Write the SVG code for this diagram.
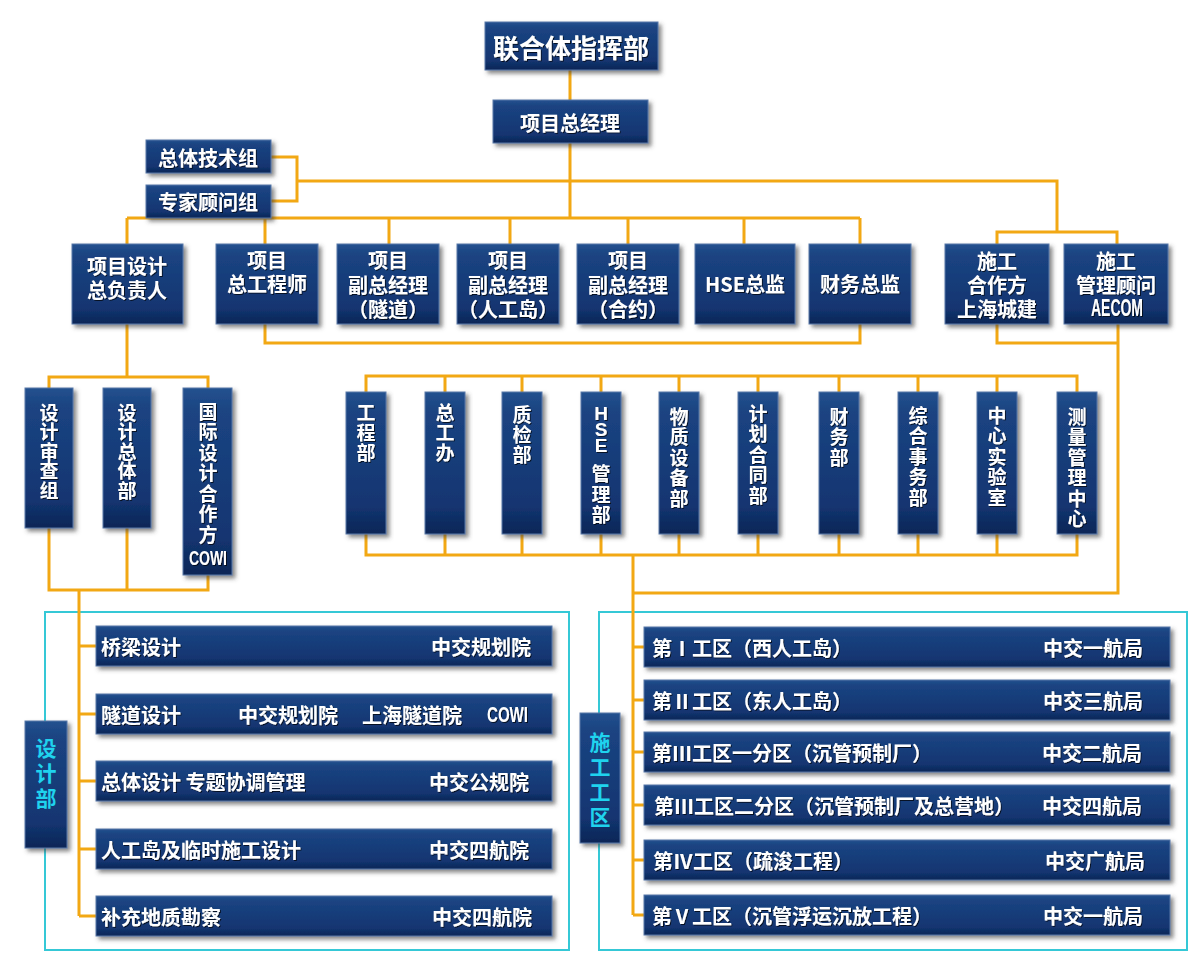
<svg xmlns="http://www.w3.org/2000/svg" width="1200" height="960" viewBox="0 0 1200 960">
<defs>
<linearGradient id="g" x1="0" y1="0" x2="0" y2="1">
<stop offset="0" stop-color="#24528f"/>
<stop offset="0.12" stop-color="#1b4482"/>
<stop offset="0.8" stop-color="#133571"/>
<stop offset="1" stop-color="#0c2656"/>
</linearGradient>
<filter id="sh" x="-20%" y="-20%" width="140%" height="150%">
<feDropShadow dx="3" dy="3" stdDeviation="2" flood-color="#444" flood-opacity="0.65"/>
</filter>
<filter id="ts" x="-10%" y="-10%" width="120%" height="130%">
<feDropShadow dx="1" dy="1" stdDeviation="0.6" flood-color="#000" flood-opacity="0.7"/>
</filter>
</defs>
<style>
.box{fill:url(#g);stroke:#5878a8;stroke-width:1;filter:url(#sh)}
.t{fill:#fff;font-family:"Noto Sans CJK SC","Noto Sans CJK TC",sans-serif;font-weight:700;font-size:20px;text-anchor:middle;dominant-baseline:central;filter:url(#ts)}
.tl{fill:#fff;font-family:"Noto Sans CJK SC",sans-serif;font-weight:700;font-size:20px;dominant-baseline:central;filter:url(#ts)}
.tr{fill:#fff;font-family:"Noto Sans CJK SC",sans-serif;font-weight:700;font-size:20px;text-anchor:end;dominant-baseline:central;filter:url(#ts)}
.v{fill:#fff;font-family:"Noto Sans CJK SC",sans-serif;font-weight:700;font-size:19px;text-anchor:middle;dominant-baseline:central;filter:url(#ts)}
.cy{fill:#1fd3ee;font-family:"Noto Sans CJK SC",sans-serif;font-weight:700;font-size:21px;text-anchor:middle;dominant-baseline:central}
.lat{fill:#fff;font-family:"Liberation Sans",Arial,sans-serif;font-weight:700;dominant-baseline:central;filter:url(#ts)}
.c{fill:none;stroke:#f2a814;stroke-width:3}
.frame{fill:none;stroke:#35c8d6;stroke-width:2}
</style>
<rect width="1200" height="960" fill="#ffffff"/>

<g id="frames">
<rect class="frame" x="45" y="612" width="524" height="338"/>
<rect class="frame" x="599" y="612" width="588" height="338"/>
</g>

<g id="connectors">
<path class="c" d="M570,70 V100 M570,143 V218"/>
<path class="c" d="M271,157 H297 V201 H271 M297,181 H1057 V232"/>
<path class="c" d="M127,218 H860 M127,218 V244 M265,218 V244 M389,218 V244 M510,218 V244 M628,218 V244 M744,218 V244 M860,218 V244"/>
<path class="c" d="M997,244 V232 H1117 V244"/>
<path class="c" d="M265,324 V343 H860 V324"/>
<path class="c" d="M997,324 V343 H1118 M1118,324 V593 H633"/>
<path class="c" d="M127,324 V377 M49,388 V377 H208 V388"/>
<path class="c" d="M49,528 V590 H208 V575 M127,528 V590 M79,590 V916"/>
<path class="c" d="M79,646 H96 M79,714 H96 M79,781 H96 M79,849 H96 M79,916 H96"/>
<path class="c" d="M366,392 V376 H1077 V392 M445,376 V392 M522,376 V392 M601,376 V392 M679,376 V392 M758,376 V392 M839,376 V392 M918,376 V392 M997,376 V392"/>
<path class="c" d="M366,534 V555 H1077 V534 M445,534 V555 M522,534 V555 M601,534 V555 M679,534 V555 M758,534 V555 M839,534 V555 M918,534 V555 M997,534 V555"/>
<path class="c" d="M633,555 V915"/>
<path class="c" d="M633,647 H644 M633,700 H644 M633,752 H644 M633,805 H644 M633,860 H644 M633,915 H644"/>
</g>

<g id="n-top"><rect class="box" x="485" y="22" width="173" height="48"/><text class="t" x="571" y="46" style="font-size:26px">联合体指挥部</text></g>
<g id="n-pm"><rect class="box" x="493" y="100" width="155" height="43"/><text class="t" x="570" y="122">项目总经理</text></g>
<g id="n-tech"><rect class="box" x="146" y="140" width="125" height="33"/><text class="t" x="208" y="157">总体技术组</text></g>
<g id="n-expert"><rect class="box" x="146" y="185" width="125" height="33"/><text class="t" x="208" y="201">专家顾问组</text></g>

<g id="n-design-lead"><rect class="box" x="72" y="244" width="111" height="80"/><text class="t"><tspan x="127" y="265">项目设计</tspan><tspan x="127" y="289">总负责人</tspan></text></g>
<g id="n-chief-eng"><rect class="box" x="216" y="244" width="102" height="80"/><text class="t"><tspan x="267" y="259">项目</tspan><tspan x="267" y="283">总工程师</tspan></text></g>
<g id="n-vp-tunnel"><rect class="box" x="337" y="244" width="102" height="80"/><text class="t"><tspan x="388" y="259">项目</tspan><tspan x="388" y="284">副总经理</tspan><tspan x="388" y="308">（隧道）</tspan></text></g>
<g id="n-vp-island"><rect class="box" x="457" y="244" width="102" height="80"/><text class="t"><tspan x="508" y="259">项目</tspan><tspan x="508" y="284">副总经理</tspan><tspan x="508" y="308">（人工岛）</tspan></text></g>
<g id="n-vp-contract"><rect class="box" x="577" y="244" width="102" height="80"/><text class="t"><tspan x="628" y="259">项目</tspan><tspan x="628" y="284">副总经理</tspan><tspan x="628" y="308">（合约）</tspan></text></g>
<g id="n-hse"><rect class="box" x="695" y="244" width="100" height="80"/><text class="t" x="745" y="283">HSE总监</text></g>
<g id="n-fin"><rect class="box" x="809" y="244" width="102" height="80"/><text class="t" x="860" y="283">财务总监</text></g>
<g id="n-partner"><rect class="box" x="945" y="244" width="104" height="80"/><text class="t"><tspan x="997" y="260">施工</tspan><tspan x="997" y="284">合作方</tspan><tspan x="997" y="308">上海城建</tspan></text></g>
<g id="n-consult"><rect class="box" x="1064" y="244" width="104" height="80"/><text class="t"><tspan x="1116" y="260">施工</tspan><tspan x="1116" y="284">管理顾问</tspan></text><text class="lat" x="1091" y="308" textLength="52" lengthAdjust="spacingAndGlyphs" style="font-size:23px">AECOM</text></g>

<g id="n-review"><rect class="box" x="25" y="388" width="48" height="140"/><text class="v" x="49 49 49 49 49" y="411 430.5 450 469.5 489">设计审查组</text></g>
<g id="n-design-general"><rect class="box" x="103" y="388" width="48" height="140"/><text class="v" x="127 127 127 127 127" y="411 430.5 450 469.5 489">设计总体部</text></g>
<g id="n-cowi"><rect class="box" x="183" y="388" width="49" height="187"/><text class="v" x="208 208 208 208 208 208 208" y="410 430.5 451 471.5 492 512.5 533">国际设计合作方</text><text class="lat" x="189" y="557" textLength="38" lengthAdjust="spacingAndGlyphs" style="font-size:21px">COWI</text></g>

<g id="n-d1"><rect class="box" x="346" y="392" width="40" height="142"/><text class="v" x="366 366 366" y="411 431 451">工程部</text></g>
<g id="n-d2"><rect class="box" x="425" y="392" width="40" height="142"/><text class="v" x="445 445 445" y="411 431 451">总工办</text></g>
<g id="n-d3"><rect class="box" x="502" y="392" width="40" height="142"/><text class="v" x="522 522 522" y="413 433 453">质检部</text></g>
<g id="n-d4"><rect class="box" x="581" y="392" width="40" height="142"/><text class="v"><tspan x="601 601 601" y="413 429 445" style="font-family:'Liberation Sans',Arial,sans-serif;font-size:19px">HSE</tspan><tspan x="601 601 601" y="472 493 513">管理部</tspan></text></g>
<g id="n-d5"><rect class="box" x="659" y="392" width="40" height="142"/><text class="v" x="679 679 679 679 679" y="415 435.5 456 476.5 497">物质设备部</text></g>
<g id="n-d6"><rect class="box" x="738" y="392" width="40" height="142"/><text class="v" x="758 758 758 758 758" y="412 432.5 453 473.5 494">计划合同部</text></g>
<g id="n-d7"><rect class="box" x="819" y="392" width="40" height="142"/><text class="v" x="839 839 839" y="415 435.5 456">财务部</text></g>
<g id="n-d8"><rect class="box" x="898" y="392" width="40" height="142"/><text class="v" x="918 918 918 918 918" y="414 434.5 455 475.5 496">综合事务部</text></g>
<g id="n-d9"><rect class="box" x="977" y="392" width="40" height="142"/><text class="v" x="997 997 997 997 997" y="414 434.5 455 475.5 496">中心实验室</text></g>
<g id="n-d10"><rect class="box" x="1057" y="392" width="40" height="142"/><text class="v" x="1077 1077 1077 1077 1077 1077" y="415 435.5 456 476.5 497 517.5">测量管理中心</text></g>

<g id="n-design-dept"><rect class="box" x="25" y="721" width="42" height="127"/><text class="cy" x="46 46 46" y="747 772 797">设计部</text></g>
<g id="n-b1"><rect class="box" x="96" y="626" width="456" height="40"/><text class="tl" x="101" y="646">桥梁设计</text><text class="tr" x="531" y="646">中交规划院</text></g>
<g id="n-b2"><rect class="box" x="96" y="694" width="456" height="40"/><text class="tl" x="101" y="714">隧道设计</text><text class="tl" x="238" y="714">中交规划院</text><text class="tl" x="362" y="714">上海隧道院</text><text class="lat" x="487" y="714" textLength="41" lengthAdjust="spacingAndGlyphs" style="font-size:22px">COWI</text></g>
<g id="n-b3"><rect class="box" x="96" y="761" width="456" height="40"/><text class="tl" x="101" y="781">总体设计 专题协调管理</text><text class="tr" x="529" y="781">中交公规院</text></g>
<g id="n-b4"><rect class="box" x="96" y="829" width="456" height="40"/><text class="tl" x="101" y="849">人工岛及临时施工设计</text><text class="tr" x="529" y="849">中交四航院</text></g>
<g id="n-b5"><rect class="box" x="96" y="896" width="456" height="40"/><text class="tl" x="101" y="916">补充地质勘察</text><text class="tr" x="532" y="916">中交四航院</text></g>

<g id="n-const-dept"><rect class="box" x="580" y="713" width="40" height="130"/><text class="cy" x="600 600 600 600" y="741 766 791 816">施工工区</text></g>
<g id="n-c1"><rect class="box" x="644" y="627" width="526" height="40"/><text class="tl" x="652" y="647">第Ⅰ工区（西人工岛）</text><text class="tr" x="1143" y="647">中交一航局</text></g>
<g id="n-c2"><rect class="box" x="644" y="680" width="526" height="40"/><text class="tl" x="652" y="700">第Ⅱ工区（东人工岛）</text><text class="tr" x="1143" y="700">中交三航局</text></g>
<g id="n-c3"><rect class="box" x="644" y="732" width="526" height="40"/><text class="tl" x="652" y="752">第Ⅲ工区一分区（沉管预制厂）</text><text class="tr" x="1142" y="752">中交二航局</text></g>
<g id="n-c4"><rect class="box" x="644" y="785" width="526" height="40"/><text class="tl" x="654" y="805">第Ⅲ工区二分区（沉管预制厂及总营地）</text><text class="tr" x="1142" y="805">中交四航局</text></g>
<g id="n-c5"><rect class="box" x="644" y="840" width="526" height="40"/><text class="tl" x="653" y="860">第Ⅳ工区（疏浚工程）</text><text class="tr" x="1145" y="860">中交广航局</text></g>
<g id="n-c6"><rect class="box" x="644" y="895" width="526" height="40"/><text class="tl" x="652" y="915">第Ⅴ工区（沉管浮运沉放工程）</text><text class="tr" x="1143" y="915">中交一航局</text></g>
</svg>
